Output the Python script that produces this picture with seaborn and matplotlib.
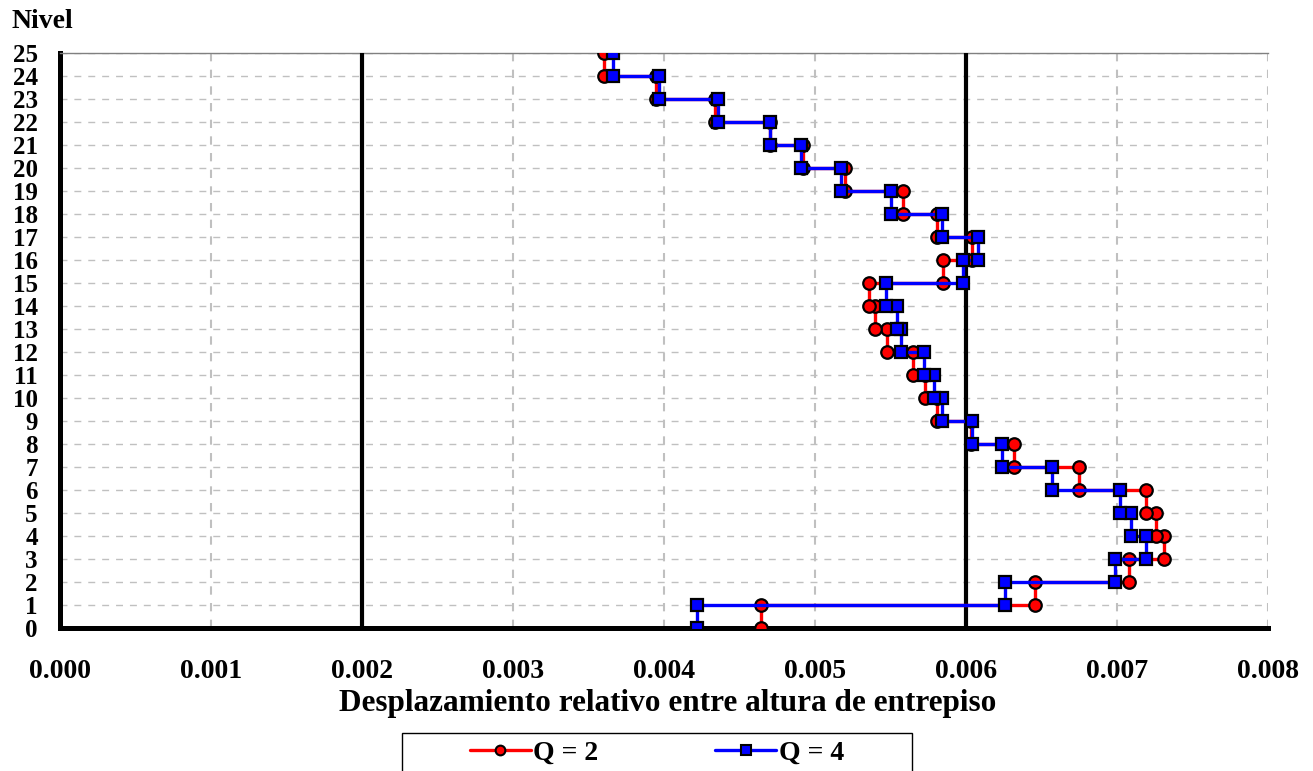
import numpy as np
import pandas as pd
import seaborn as sns
import matplotlib
matplotlib.use("Agg")
import matplotlib.pyplot as plt
from matplotlib.lines import Line2D
from matplotlib.patches import Rectangle

# ---- data ----
stories = list(range(1, 26))
drift_q2 = [0.00464, 0.00646, 0.00708, 0.00731, 0.00726, 0.00719, 0.00675, 0.00632,
            0.00603, 0.00581, 0.00573, 0.00565, 0.00548, 0.00540, 0.00536, 0.00585,
            0.00604, 0.00581, 0.00558, 0.00520, 0.00492, 0.00470, 0.00434, 0.00395,
            0.00360]
drift_q4 = [0.00422, 0.00626, 0.00699, 0.00719, 0.00709, 0.00702, 0.00657, 0.00624,
            0.00604, 0.00584, 0.00579, 0.00572, 0.00557, 0.00554, 0.00547, 0.00598,
            0.00608, 0.00584, 0.00550, 0.00517, 0.00491, 0.00470, 0.00436, 0.00397,
            0.00366]
series_labels = ["Q = 2", "Q = 4"]
limits = [0.002, 0.006]
x_ticks = [0.000, 0.001, 0.002, 0.003, 0.004, 0.005, 0.006, 0.007, 0.008]
y_ticks = list(range(0, 26))

rows = []
for lab, vals in zip(series_labels, [drift_q2, drift_q4]):
    for s, v in zip(stories, vals):
        rows.append({"Q": lab, "drift": v, "level": s - 1})
        rows.append({"Q": lab, "drift": v, "level": s})
df = pd.DataFrame(rows)

sns.set_style("white")
plt.rcParams["font.family"] = ["Liberation Serif", "DejaVu Serif"]
plt.rcParams["font.weight"] = "bold"
plt.rcParams["text.color"] = "black"
plt.rcParams["xtick.color"] = "black"
plt.rcParams["ytick.color"] = "black"
plt.rcParams["axes.labelcolor"] = "black"

fig = plt.figure(figsize=(13.13, 7.71), dpi=100)
ax = fig.add_axes([60 / 1313, 1 - 628 / 771, (1268 - 60) / 1313, (628 - 53) / 771])

colors = {"Q = 2": "#ff0000", "Q = 4": "#0000ff"}
markers = {"Q = 2": "o", "Q = 4": "s"}

for lab in series_labels:
    sub = df[df["Q"] == lab]
    sns.lineplot(data=sub, x="drift", y="level", sort=False, estimator=None,
                 color=colors[lab], marker=markers[lab], markersize=9,
                 markeredgecolor="black", markeredgewidth=1.6, linewidth=2.4,
                 ax=ax, zorder=4, legend=False)

for lim in limits:
    ax.axvline(lim, color="black", lw=3, zorder=3)

ax.set_xlim(0, 0.008)
ax.set_ylim(0, 25)
ax.set_xticks(x_ticks)
ax.set_xticklabels([f"{t:.3f}" for t in x_ticks], fontsize=20, fontweight="bold")
ax.set_yticks(y_ticks)
ax.set_yticklabels([str(t) for t in y_ticks], fontsize=18, fontweight="bold")
ax.tick_params(axis="x", direction="out", length=9, width=3, pad=13, color="black")
ax.tick_params(axis="y", direction="out", length=9, width=3, pad=7, color="black")

ax.xaxis.grid(True, color="#c0c0c0", lw=1.5, ls=(0, (4, 4)))
ax.yaxis.grid(True, color="#c0c0c0", lw=1.0, ls=(0, (5, 5)))
ax.set_axisbelow(True)

for side in ["left", "bottom"]:
    ax.spines[side].set_color("black")
    ax.spines[side].set_linewidth(3.6)
ax.spines["top"].set_color("#808080")
ax.spines["top"].set_linewidth(1.0)
ax.spines["right"].set_visible(False)

ax.set_xlabel("")
ax.set_ylabel("")

fig.text(668 / 1313, 1 - 703 / 771, "Desplazamiento relativo entre altura de entrepiso",
         ha="center", va="center", fontsize=22.5, fontweight="bold")
fig.text(12 / 1313, 1 - 22 / 771, "Nivel", ha="left", va="center",
         fontsize=20, fontweight="bold")

handles = [Line2D([], [], color=colors[l], marker=markers[l], markersize=7,
                  markeredgecolor="black", markeredgewidth=1.5, lw=2.4)
           for l in series_labels]
fig.legend(handles, series_labels, loc="center", ncol=2,
           bbox_to_anchor=(657 / 1313, 1 - 753 / 771), frameon=False,
           prop={"size": 20, "weight": "bold"}, handlelength=2.2,
           handletextpad=0.1, columnspacing=4.2)
fig.patches.append(Rectangle((402 / 1313, -0.05), (912 - 402) / 1313,
                             (1 - 733 / 771) + 0.05, transform=fig.transFigure,
                             fill=False, edgecolor="black", lw=1.0))

fig.savefig("out.png", dpi=100)
